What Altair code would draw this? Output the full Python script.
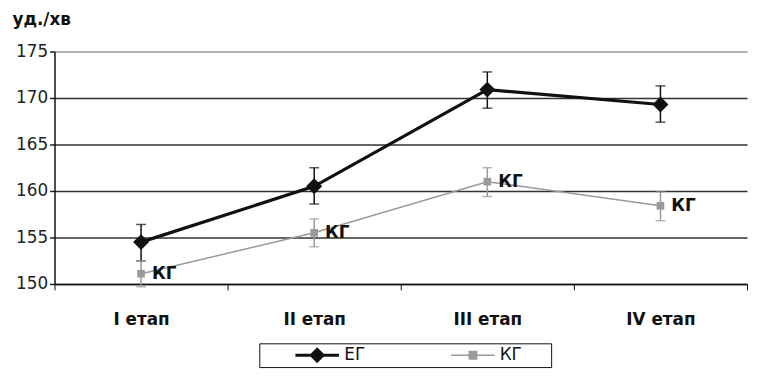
import altair as alt
import pandas as pd

stages = ["I етап", "II етап", "III етап", "IV етап"]
groups = ["ЕГ", "КГ"]
eg_mean = [154.5, 160.5, 170.9, 169.3]
eg_lo = [152.5, 158.6, 168.9, 167.4]
eg_hi = [156.4, 162.5, 172.8, 171.3]
kg_mean = [151.1, 155.5, 161.0, 158.4]
kg_lo = [149.7, 154.0, 159.4, 156.8]
kg_hi = [152.5, 157.0, 162.5, 159.9]
y_ticks = [150, 155, 160, 165, 170, 175]

rows = []
for g, m, lo, hi in [("ЕГ", eg_mean, eg_lo, eg_hi), ("КГ", kg_mean, kg_lo, kg_hi)]:
    for s, a, b, c in zip(stages, m, lo, hi):
        rows.append({"stage": s, "group": g, "mean": a, "lo": b, "hi": c})
df = pd.DataFrame(rows)

FONT = "DejaVu Sans"
colors = ["#111111", "#9a9a9a"]

x_enc = alt.X(
    "stage:N", sort=stages,
    scale=alt.Scale(type="band", paddingInner=0, paddingOuter=0),
    axis=alt.Axis(title=None, tickBand="extent", tickSize=6, tickColor="#111",
                  domainColor="#111", domainWidth=1.5, labelFont=FONT,
                  labelFontSize=17, labelFontWeight="bold", labelColor="#111",
                  labelPadding=22, labelAngle=0, grid=False),
)
y_scale = alt.Scale(domain=[150, 175], nice=False, zero=False)
y_axis = alt.Axis(values=y_ticks, title="уд./хв", titleAngle=0, titleAlign="left",
                  titleX=-43, titleY=-27, titleBaseline="alphabetic", titleFont=FONT,
                  titleFontSize=17, titleFontWeight="bold", titleColor="#111",
                  labelFont=FONT, labelFontSize=17, labelColor="#222", labelPadding=2,
                  tickSize=5, tickColor="#222", tickWidth=1.5, domainColor="#111",
                  domainWidth=1.5, grid=True,
                  gridColor={"condition": {"test": "datum.value == 175", "value": "#999999"},
                             "value": "#333333"},
                  gridWidth=1.5)

col_scale = alt.Scale(domain=groups, range=colors)
sw_scale = alt.Scale(domain=groups, range=[3, 1.5])

base = alt.Chart(df)
is_eg = alt.datum.group == "ЕГ"
color_val = alt.condition(is_eg, alt.value(colors[0]), alt.value(colors[1]))

lines = base.mark_line().encode(
    x=x_enc,
    y=alt.Y("mean:Q", scale=y_scale, axis=y_axis),
    detail="group:N",
    color=color_val,
    strokeWidth=alt.condition(is_eg, alt.value(3.2), alt.value(1.5)),
)

rules = base.mark_rule(strokeWidth=1.5).encode(
    x=x_enc,
    y=alt.Y("lo:Q", scale=y_scale, axis=y_axis),
    y2="hi:Q",
    color=color_val,
)
tick_lo = base.mark_tick(size=10, thickness=1.5).encode(
    x=x_enc, y=alt.Y("lo:Q", scale=y_scale, axis=y_axis), color=color_val,
)
tick_hi = base.mark_tick(size=10, thickness=1.5).encode(
    x=x_enc, y=alt.Y("hi:Q", scale=y_scale, axis=y_axis), color=color_val,
)

pts_eg = base.transform_filter(is_eg).mark_point(
    shape="diamond", filled=True, size=260, opacity=1, color=colors[0]
).encode(x=x_enc, y=alt.Y("mean:Q", scale=y_scale, axis=y_axis))
pts_kg = base.transform_filter(alt.datum.group == "КГ").mark_point(
    shape="square", filled=True, size=60, opacity=1, color=colors[1]
).encode(x=x_enc, y=alt.Y("mean:Q", scale=y_scale, axis=y_axis))

labels = base.transform_filter(alt.datum.group == "КГ").mark_text(
    align="left", baseline="middle", dx=11, font=FONT, fontSize=17,
    fontWeight="bold", color="#111"
).encode(x=x_enc, y=alt.Y("mean:Q", scale=y_scale, axis=y_axis), text="group:N")

BLANK = "\u2800"
legend = alt.Legend(
    title=None, orient="none", legendX=207, legendY=295, direction="horizontal",
    strokeColor="#111", fillColor="white", padding=4, symbolSize=1936,
    clipHeight=16, symbolOffset=31, columnPadding=29, labelOffset=4,
    labelFont=FONT, labelFontSize=17, labelColor="#111",
    labelExpr="datum.label + '" + BLANK * 2 + "'",
)
shape_scale = alt.Scale(domain=groups, range=[
    "M-1,0L1,0M0,-0.27L0.27,0L0,0.27L-0.27,0Z",
    "M-1,0L1,0M-0.17,-0.17L0.17,-0.17L0.17,0.17L-0.17,0.17Z",
])
leg_layer = base.transform_filter("false").mark_point(filled=True, opacity=1).encode(
    shape=alt.Shape("group:N", scale=shape_scale, legend=legend),
    fill=alt.Fill("group:N", scale=col_scale, legend=legend),
    stroke=alt.Stroke("group:N", scale=col_scale, legend=legend),
    strokeWidth=alt.StrokeWidth("group:N", scale=sw_scale, legend=legend),
)

chart = alt.layer(lines, rules, tick_lo, tick_hi, pts_eg, pts_kg, labels, leg_layer).properties(
    width=700, height=235,
    autosize=alt.AutoSizeParams(type="none"),
    padding={"left": 47, "top": 42, "right": 2, "bottom": 84},
).configure_view(stroke=None)

chart.save("out.html", embed_options={"renderer": "svg", "actions": False})
